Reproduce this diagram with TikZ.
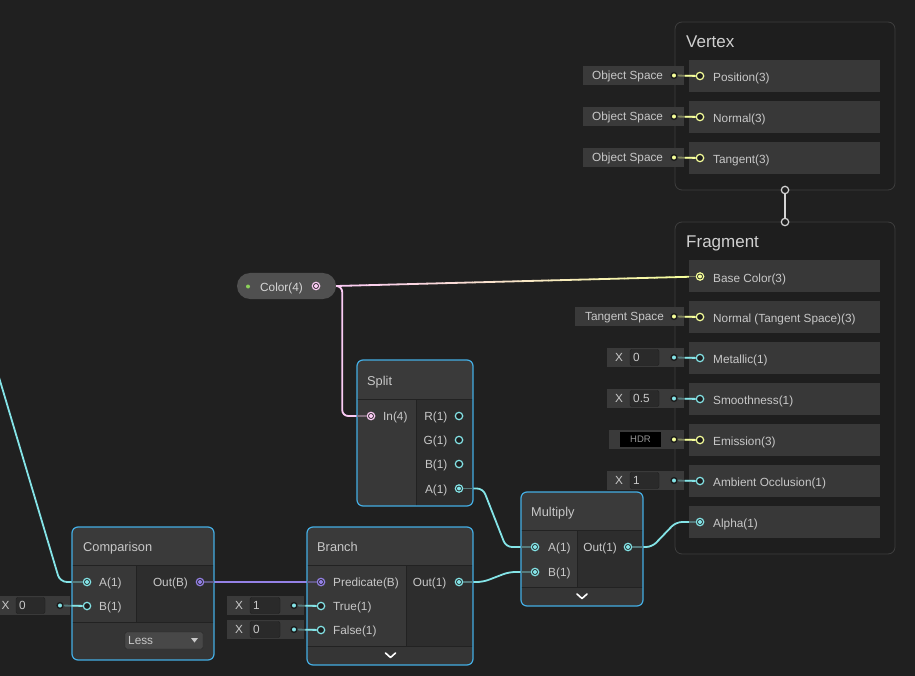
\documentclass[tikz,border=0pt]{standalone}
\usepackage{fontspec}
\setmainfont{Liberation Sans}
\usetikzlibrary{calc}
\pgfdeclarelayer{bg}
\pgfdeclarelayer{wires}
\pgfdeclarelayer{bodies}
\pgfsetlayers{bg,wires,bodies,main}
\definecolor{canvas}{RGB}{32,32,32}
\definecolor{ctxbg}{RGB}{30,30,30}
\definecolor{ctxborder}{RGB}{62,62,62}
\definecolor{rowfill}{RGB}{56,56,56}
\definecolor{hdrfill}{RGB}{58,58,58}
\definecolor{incol}{RGB}{56,56,56}
\definecolor{outcol}{RGB}{45,45,45}
\definecolor{botfill}{RGB}{53,53,53}
\definecolor{sepline}{RGB}{34,34,34}
\definecolor{selblue}{RGB}{68,174,228}
\definecolor{txt}{RGB}{200,200,200}
\definecolor{hdrtxt}{RGB}{208,208,208}
\definecolor{ringfill}{RGB}{30,30,30}
\definecolor{dotring}{RGB}{28,28,28}
\definecolor{vecthree}{RGB}{246,255,154}
\definecolor{vecone}{RGB}{132,228,231}
\definecolor{vecfour}{RGB}{251,203,244}
\definecolor{boolc}{RGB}{148,129,230}
\definecolor{flowc}{RGB}{212,212,212}
\definecolor{inlinefill}{RGB}{58,58,58}
\definecolor{fieldfill}{RGB}{42,42,42}
\definecolor{fieldborder}{RGB}{30,30,30}
\definecolor{pillfill}{RGB}{80,80,80}
\definecolor{greendot}{RGB}{140,210,90}
\definecolor{ddfill}{RGB}{72,72,72}
\definecolor{ddborder}{RGB}{40,40,40}
\definecolor{hdrgray}{RGB}{150,150,150}
\colorlet{dimone}{vecone!38!rowfill}
\colorlet{dimthree}{vecthree!38!rowfill}
\colorlet{dimfour}{vecfour!38!rowfill}
\colorlet{dimbool}{boolc!45!rowfill}
\begin{document}
\begin{tikzpicture}[x=1pt,y=-1pt,
  lbl/.style={font=\fontsize{11.8}{13}\selectfont, text=txt, inner sep=0pt, anchor=base west},
  lble/.style={lbl, anchor=base east},
  xl/.style={lbl, anchor=base},
  ttl/.style={font=\fontsize{12.8}{14}\selectfont, text=txt, inner sep=0pt, anchor=base west},
  ctxttl/.style={font=\fontsize{17}{19}\selectfont, text=hdrtxt, inner sep=0pt, anchor=base west},
  pring/.style={circle, draw=#1, fill=ringfill, line width=1.2pt, minimum size=7.4pt, inner sep=0pt},
  pconn/.style={pring=#1, path picture={\fill[#1] (path picture bounding box.center) circle (2pt);}},
  idot/.style={circle, fill=#1, draw=dotring, line width=1.4pt, minimum size=5.8pt, inner sep=0pt},
  wire/.style={draw=#1, line width=1.8pt},
  pill/.style={rectangle, rounded corners=13pt, fill=pillfill, minimum width=99pt, minimum height=26pt, inner sep=0pt},
  chev/.style={draw=white, line width=1.6pt, line cap=round, line join=round}
]
\useasboundingbox (0,0) rectangle (915,676);
\clip (0,0) rectangle (915,676);

% ---------- ports (main layer) ----------
\node[pring=vecthree] (vPos) at (700,76) {};
\node[pring=vecthree] (vNor) at (700,117) {};
\node[pring=vecthree] (vTan) at (700,158) {};
\node[idot=vecthree] (ivPos) at (674,75.5) {};
\node[idot=vecthree] (ivNor) at (674,116.5) {};
\node[idot=vecthree] (ivTan) at (674,157.5) {};
\node[pring=flowc] (vBot) at (785,190) {};
\node[pring=flowc] (fTop) at (785,222) {};
\node[pconn=vecthree] (fBase) at (700,276.5) {};
\node[pring=vecthree] (fNor) at (700,317) {};
\node[idot=vecthree] (ifNor) at (674,316.5) {};
\node[pring=vecone] (fMet) at (700,358) {};
\node[idot=vecone] (ifMet) at (674,357.5) {};
\node[pring=vecone] (fSmo) at (700,399) {};
\node[idot=vecone] (ifSmo) at (674,398.5) {};
\node[pring=vecthree] (fEmi) at (700,440) {};
\node[idot=vecthree] (ifEmi) at (674,439.5) {};
\node[pring=vecone] (fAO) at (700,481) {};
\node[idot=vecone] (ifAO) at (674,480.5) {};
\node[pconn=vecone] (fAlpha) at (700,522) {};

\node[pill] (colorprop) at (286.5,286) {};
\node[pconn=vecfour] (cOut) at (316,286) {};

\node[pconn=vecfour] (sIn) at (371,416) {};
\node[pring=vecone] (sR) at (459,416) {};
\node[pring=vecone] (sG) at (459,440) {};
\node[pring=vecone] (sB) at (459,464) {};
\node[pconn=vecone] (sA) at (459,488.5) {};

\node[pconn=vecone] (cmA) at (87,582) {};
\node[pring=vecone] (cmB) at (87,606) {};
\node[idot=vecone] (icmB) at (60,605.5) {};
\node[pconn=boolc] (cmOut) at (200,582) {};

\node[pconn=boolc] (brP) at (321,582) {};
\node[pring=vecone] (brT) at (321,606) {};
\node[idot=vecone] (ibrT) at (294,605.5) {};
\node[pring=vecone] (brF) at (321,630) {};
\node[idot=vecone] (ibrF) at (294,629.5) {};
\node[pconn=vecone] (brOut) at (459,582) {};

\node[pconn=vecone] (muA) at (535,547) {};
\node[pconn=vecone] (muB) at (535,572) {};
\node[pconn=vecone] (muOut) at (628,547) {};

\coordinate (lftStart) at (-2,374);

% ---------- background ----------
\begin{pgfonlayer}{bg}
\fill[canvas] (-5,-5) rectangle (920,680);
\draw[ctxborder, fill=ctxbg, line width=0.8pt, rounded corners=7] (675,22) rectangle (895,190);
\draw[ctxborder, fill=ctxbg, line width=0.8pt, rounded corners=7] (675,222) rectangle (895,554);
\end{pgfonlayer}

% ---------- wires ----------
\begin{pgfonlayer}{wires}
\draw[wire=vecone, rounded corners=7] (lftStart) -- (60,582) -- (cmA);
\draw[wire=boolc] (cmOut) -- (brP);
\draw[wire=vecone, rounded corners=6] (sA) -- (483,488.5) -- (506,547) -- (muA);
\draw[wire=vecone, rounded corners=6] (brOut) -- (483,582) -- (509,572) -- (muB);
\draw[wire=vecone, rounded corners=6] (muOut) -- (652,547) -- (676,522) -- (fAlpha);
\draw[wire=vecfour, rounded corners=6] (colorprop.east) -- ++(6,0) |- (sIn);
\foreach \i in {0,...,23} {
  \pgfmathtruncatemacro\pp{100-\i*100/23}
  \draw[line width=1.8pt, line cap=round, color=vecfour!\pp!vecthree]
    ($(colorprop.east)!\i/24!(fBase.center)$) -- ($(colorprop.east)!\i/24+1/24!(fBase.center)$);
}
\draw[wire=flowc] (vBot) -- (fTop);
\end{pgfonlayer}

% ---------- bodies ----------
\begin{pgfonlayer}{bodies}
% context rows
\foreach \y in {60,101,142} {\fill[rowfill] (689,\y) rectangle (880,\y+32);}
\foreach \y in {260,301,342,383,424,465,506} {\fill[rowfill] (689,\y) rectangle (880,\y+32);}
% inline inputs (context)
\fill[inlinefill] (583,66) rectangle (684,85);
\fill[inlinefill] (583,107) rectangle (684,126);
\fill[inlinefill] (583,148) rectangle (684,167);
\fill[inlinefill] (575,306.5) rectangle (684,326);
\fill[inlinefill] (607,348) rectangle (684,367);
\draw[fieldborder, fill=fieldfill, rounded corners=2] (630,349.5) rectangle (659,365.5);
\fill[inlinefill] (607,389) rectangle (684,408);
\draw[fieldborder, fill=fieldfill, rounded corners=2] (630,390.5) rectangle (659,406.5);
\fill[inlinefill] (609,430) rectangle (684,449);
\fill[black] (620,432) rectangle (661,447);
\fill[inlinefill] (607,471) rectangle (684,490);
\draw[fieldborder, fill=fieldfill, rounded corners=2] (630,472.5) rectangle (659,488.5);
% inline inputs (nodes)
\fill[inlinefill] (227,596) rectangle (304,615);
\draw[fieldborder, fill=fieldfill, rounded corners=2] (250,597.5) rectangle (280,613.5);
\fill[inlinefill] (227,620) rectangle (304,639);
\draw[fieldborder, fill=fieldfill, rounded corners=2] (250,621.5) rectangle (280,637.5);
\fill[inlinefill] (-2,596) rectangle (70,615);
\draw[fieldborder, fill=fieldfill, rounded corners=2] (16,597.5) rectangle (45,613.5);

% Comparison
\begin{scope}
\clip[rounded corners=6] (72,527) rectangle (214,660);
\fill[outcol] (72,527) rectangle (214,660);
\fill[hdrfill] (72,527) rectangle (214,565);
\fill[incol] (72,565) rectangle (136,622);
\fill[botfill] (72,622) rectangle (214,660);
\draw[sepline, line width=1pt] (72,565) -- (214,565) (136,565) -- (136,622) (72,622) -- (214,622);
\end{scope}
\draw[selblue, line width=1.2pt, rounded corners=6] (72,527) rectangle (214,660);
\draw[ddborder, fill=ddfill, rounded corners=2] (125,632) rectangle (203,649);

% Branch
\begin{scope}
\clip[rounded corners=6] (307,527) rectangle (473,665);
\fill[outcol] (307,527) rectangle (473,665);
\fill[hdrfill] (307,527) rectangle (473,565);
\fill[incol] (307,565) rectangle (406,646);
\fill[botfill] (307,646) rectangle (473,665);
\draw[sepline, line width=1pt] (307,565) -- (473,565) (406,565) -- (406,646) (307,646) -- (473,646);
\end{scope}
\draw[selblue, line width=1.2pt, rounded corners=6] (307,527) rectangle (473,665);

% Split
\begin{scope}
\clip[rounded corners=6] (357,360) rectangle (473,506);
\fill[outcol] (357,360) rectangle (473,506);
\fill[hdrfill] (357,360) rectangle (473,399);
\fill[incol] (357,399) rectangle (416,506);
\draw[sepline, line width=1pt] (357,399) -- (473,399) (416,399) -- (416,506);
\end{scope}
\draw[selblue, line width=1.2pt, rounded corners=6] (357,360) rectangle (473,506);

% Multiply
\begin{scope}
\clip[rounded corners=6] (521,492) rectangle (643,606);
\fill[outcol] (521,492) rectangle (643,606);
\fill[hdrfill] (521,492) rectangle (643,530);
\fill[incol] (521,530) rectangle (577,587);
\fill[botfill] (521,587) rectangle (643,606);
\draw[sepline, line width=1pt] (521,530) -- (643,530) (577,530) -- (577,587) (521,587) -- (643,587);
\end{scope}
\draw[selblue, line width=1.2pt, rounded corners=6] (521,492) rectangle (643,606);
\end{pgfonlayer}

% ---------- stubs (dim parts inside nodes) ----------
\draw[wire=dimone] (72,582) -- (cmA);
\draw[wire=dimbool] (214,582) -- (cmOut);
\draw[wire=dimbool] (307,582) -- (brP);
\draw[wire=dimone] (473,582) -- (brOut);
\draw[wire=dimfour] (357,416) -- (sIn);
\draw[wire=dimone] (473,488.5) -- (sA);
\draw[wire=dimone] (521,547) -- (muA);
\draw[wire=dimone] (521,572) -- (muB);
\draw[wire=dimone] (643,547) -- (muOut);
\draw[wire=dimthree] (689,276.5) -- (fBase);
\draw[wire=dimone] (689,522) -- (fAlpha);

% inline stubs
\foreach \a/\b/\c/\d in {ivPos/vPos/dimthree/vecthree, ivNor/vNor/dimthree/vecthree, ivTan/vTan/dimthree/vecthree,
  ifNor/fNor/dimthree/vecthree, ifMet/fMet/dimone/vecone, ifSmo/fSmo/dimone/vecone, ifEmi/fEmi/dimthree/vecthree,
  ifAO/fAO/dimone/vecone, icmB/cmB/dimone/vecone, ibrT/brT/dimone/vecone, ibrF/brF/dimone/vecone} {
  \draw[wire=\c] (\a) -- (\b);
  \draw[wire=\d] ($(\a)!0.42!(\b)$) -- (\b);
}

% ---------- texts ----------
\node[ctxttl] (tVertex) at (686,47.3) {Vertex};
\node[ctxttl] (tFragment) at (686,247.3) {Fragment};
\node[lbl] (tPos) at (713,81.5) {Position(3)};
\node[lbl] (tNor) at (713,122.5) {Normal(3)};
\node[lbl] (tTan) at (713,163.5) {Tangent(3)};
\node[lbl] (tOS1) at (592,79.5) {Object Space};
\node[lbl] (tOS2) at (592,120.5) {Object Space};
\node[lbl] (tOS3) at (592,161.5) {Object Space};
\node[lbl] (tBase) at (713,282) {Base Color(3)};
\node[lbl] (tFNor) at (713,322.5) {Normal (Tangent Space)(3)};
\node[lbl] (tMet) at (713,363.5) {Metallic(1)};
\node[lbl] (tSmo) at (713,404.5) {Smoothness(1)};
\node[lbl] (tEmi) at (713,445.5) {Emission(3)};
\node[lbl] (tAO) at (713,486.5) {Ambient Occlusion(1)};
\node[lbl] (tAlpha) at (713,527.5) {Alpha(1)};
\node[lbl] (tTS) at (585,320) {Tangent Space};
\node[xl] (xMet) at (619,361.5) {X};
\node[lbl] (vMet) at (633,361.5) {0};
\node[xl] (xSmo) at (619,402.5) {X};
\node[lbl] (vSmo) at (633,402.5) {0.5};
\node[xl] (xAO) at (619,484.5) {X};
\node[lbl] (vAO) at (633,484.5) {1};
\node[font=\fontsize{9.5}{11}\selectfont, text=hdrgray, inner sep=0pt] (tHDR) at (640.5,439.5) {HDR};

\fill[greendot] (248,286.5) circle (2);
\node[lbl, text={rgb,255:red,215;green,215;blue,215}] (tColor) at (260,291) {Color(4)};

\node[ttl] (tSplit) at (367,385) {Split};
\node[lbl] (tIn) at (383,420.5) {In(4)};
\node[lble] (tR) at (447.5,420.5) {R(1)};
\node[lble] (tG) at (447.5,444.5) {G(1)};
\node[lble] (tB) at (447.5,468.5) {B(1)};
\node[lble] (tA) at (447.5,493) {A(1)};

\node[ttl] (tCmp) at (83,551) {Comparison};
\node[lbl] (tCmA) at (99,586.5) {A(1)};
\node[lbl] (tCmB) at (99,610.5) {B(1)};
\node[lble] (tCmOut) at (188,586.5) {Out(B)};
\node[xl] (xCmB) at (5.5,609.5) {X};
\node[lbl] (vCmB) at (19,609.5) {0};
\node[lbl] (tLess) at (128,644.5) {Less};
\fill[txt] (191,638) -- (198,638) -- (194.5,642.5) -- cycle;

\node[ttl] (tBr) at (317,551) {Branch};
\node[lbl] (tPred) at (333,586.5) {Predicate(B)};
\node[lbl] (tTrue) at (333,610.5) {True(1)};
\node[lbl] (tFalse) at (333,634.5) {False(1)};
\node[lble] (tBrOut) at (446.5,586.5) {Out(1)};
\node[xl] (xT) at (239,609.5) {X};
\node[lbl] (vT) at (253,609.5) {1};
\node[xl] (xF) at (239,633.5) {X};
\node[lbl] (vF) at (253,633.5) {0};
\draw[chev] (385.5,653) -- (390.5,657.5) -- (395.5,653);

\node[ttl] (tMul) at (531,516) {Multiply};
\node[lbl] (tMuA) at (548,551.5) {A(1)};
\node[lbl] (tMuB) at (548,576.5) {B(1)};
\node[lble] (tMuOut) at (617,551.5) {Out(1)};
\draw[chev] (577,594) -- (582,598.5) -- (587,594);
\end{tikzpicture}
\end{document}
